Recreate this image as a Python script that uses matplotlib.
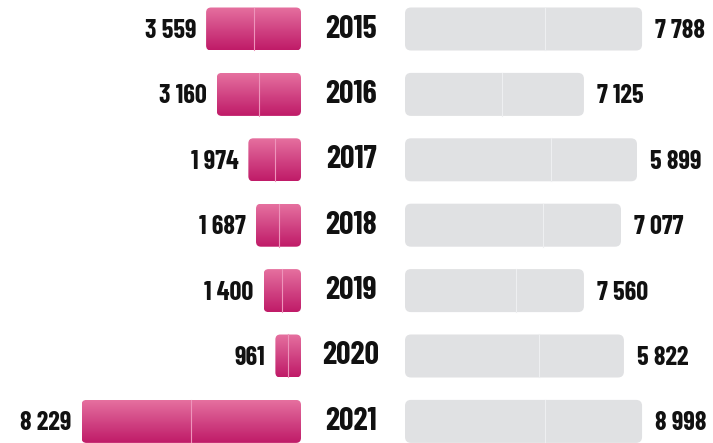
import numpy as np
import matplotlib.pyplot as plt
from matplotlib.patches import FancyBboxPatch
from matplotlib.colors import LinearSegmentedColormap

years = ["2015", "2016", "2017", "2018", "2019", "2020", "2021"]
left_values = [3559, 3160, 1974, 1687, 1400, 961, 8229]
right_values = [7788, 7125, 5899, 7077, 7560, 5822, 8998]
# grey tracks on the right: full length and where the divider sits
right_track = [8890, 6710, 8700, 8100, 6710, 8210, 8890]
right_split = [5250, 3640, 5480, 5180, 4160, 5030, 5250]

W, H = 713, 443
PX = 37.5            # value units per pixel on x
ROW = 65.4           # pixels between rows
GAP = 104 * PX       # empty middle column holding the years
BAR_H = 43 / ROW
NUDGE = 2 / ROW      # value labels sit a touch lower than the row centre

FONT = ['Barlow Condensed', 'Saira Condensed', 'DejaVu Sans']


def fmt(v):
    return f"{v:,}".replace(",", " ")


fig = plt.figure(figsize=(W / 100, H / 100), dpi=100)
ax = fig.add_axes([0, 0, 1, 1])
ax.axis('off')

xlim = (-301 * PX, (W - 301) * PX)
ylim = (6 + (H - 421.4) / ROW, -29 / ROW)
aspect = (1 / ROW) / PX

pink = LinearSegmentedColormap.from_list('pink', ['#e6709f', '#d14584', '#c01b68'])
grad = np.linspace(0, 1, 64).reshape(-1, 1)


def rounded(x0, y0, w, h, radius_px, **kw):
    p = FancyBboxPatch((x0, y0), w, h,
                       boxstyle=f"round,pad=0,rounding_size={radius_px * PX}",
                       mutation_aspect=aspect, **kw)
    ax.add_patch(p)
    return p


for i, yr in enumerate(years):
    top = i - BAR_H / 2

    # pink bar growing to the left
    lv = left_values[i]
    p = rounded(-lv, top, lv, BAR_H, 5, facecolor='none', edgecolor='none')
    im = ax.imshow(grad, cmap=pink, aspect='auto', interpolation='bilinear',
                   extent=[-lv, 0, top + BAR_H, top], origin='upper', zorder=2)
    im.set_clip_path(p)
    ax.plot([-lv / 2, -lv / 2], [top, top + BAR_H], color='#ee94bb', lw=0.8, zorder=3)
    ax.text(-lv - 10 * PX, i + NUDGE, fmt(lv), ha='right', va='center',
            fontsize=19, fontweight='bold', family=FONT, color='#111111')

    # grey track on the right
    rt = right_track[i]
    rounded(GAP, top, rt, BAR_H, 6, facecolor='#e0e1e3', edgecolor='none', zorder=2)
    sx = GAP + right_split[i]
    ax.plot([sx, sx], [top, top + BAR_H], color='#eeeff1', lw=0.8, zorder=3)
    ax.text(GAP + rt + 13 * PX, i + NUDGE, fmt(right_values[i]), ha='left', va='center',
            fontsize=19, fontweight='bold', family=FONT, color='#111111')

    # year in the middle column
    ax.text(50 * PX, i, yr, ha='center', va='center',
            fontsize=23, fontweight='bold', family=FONT, color='#111111')

ax.set_xlim(*xlim)
ax.set_ylim(*ylim)

plt.savefig('out.png', dpi=100)
